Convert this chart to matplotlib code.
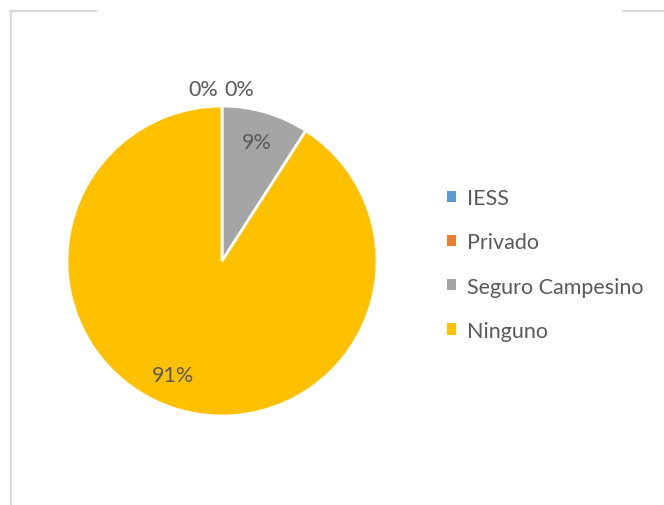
import matplotlib.pyplot as plt
from matplotlib.lines import Line2D
from matplotlib.patches import Patch
import numpy as np

plt.rcParams['font.family'] = ['Lato', 'DejaVu Sans']

# tipo de seguro
labels = ['IESS', 'Privado', 'Seguro Campesino', 'Ninguno']
values = [0, 0, 9.1, 90.9]
colors = ['#5B9BD5', '#ED7D31', '#A5A5A5', '#FFC000']
txt_color = '#595959'

W, H = 664, 506
fig = plt.figure(figsize=(W / 100, H / 100), dpi=100)

# pie centre (222, 262) px, radius 155 px
cx, cy, r = 222, 262, 155
ax = fig.add_axes([(cx - r) / W, (H - cy - r) / H, 2 * r / W, 2 * r / H])

wedges, _ = ax.pie(values, colors=colors, startangle=90, counterclock=False,
                   wedgeprops=dict(edgecolor='white', linewidth=2))
ax.set_xlim(-1, 1)
ax.set_ylim(-1, 1)

# data labels
total = sum(values)
for i, w in enumerate(wedges):
    pct = values[i] / total * 100
    mid = np.deg2rad((w.theta1 + w.theta2) / 2)
    if values[i] == 0:
        # excel puts zero labels outside, side by side at the top
        x = -0.12 if i == 0 else 0.11
        y = 1.11
    else:
        x = 0.8 * np.cos(mid)
        y = 0.8 * np.sin(mid)
        if i == 3:
            x -= 0.09
            y += 0.03
    ax.text(x, y, '{:.0f}%'.format(pct), ha='center', va='center',
            fontsize=15.5, color=txt_color)

handles = [Patch(facecolor=c, edgecolor='none') for c in colors]
fig.legend(handles, labels, loc='upper left', bbox_to_anchor=(428 / W, 1 - 170 / H),
           frameon=False, fontsize=15.5, handlelength=0.42, handleheight=0.42,
           handletextpad=0.5, labelspacing=1.12, labelcolor=txt_color)

# chart border (cropped)
bc = '#D9D9D9'
fig.add_artist(Line2D([10.5 / W, 10.5 / W], [0, 1 - 12 / H], color=bc, lw=1.5))
fig.add_artist(Line2D([10 / W, 96 / W], [1 - 12 / H, 1 - 12 / H], color=bc, lw=1.5))
fig.add_artist(Line2D([623 / W, 1], [1 - 12 / H, 1 - 12 / H], color=bc, lw=1.5))

plt.savefig('out.png', dpi=100)
